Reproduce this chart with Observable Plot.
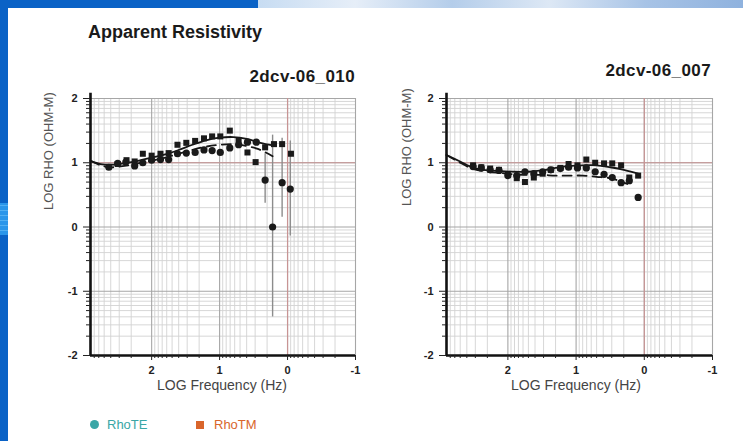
<!DOCTYPE html>
<html><head><meta charset="utf-8">
<script src="https://cdn.jsdelivr.net/npm/d3@7"></script>
<script src="https://cdn.jsdelivr.net/npm/@observablehq/plot@0.6"></script>
<style>
body{margin:0;background:#fff;font-family:"Liberation Sans",Arial,Helvetica,sans-serif;}
#page{position:relative;width:743px;height:441px;overflow:hidden;background:#fff;}
.abs{position:absolute;white-space:nowrap;}
#bl{left:0;top:0;width:8px;height:441px;background:#0a62c6;}
#bl2{left:0;top:203px;width:8px;height:32px;background:repeating-linear-gradient(0deg,#2a96ea 0 4px,#52b0f2 4px 5px);}
#bt{left:0;top:0;width:258px;height:8px;background:#0a62c6;}
#bt2{left:258px;top:0;width:485px;height:8px;background:linear-gradient(90deg,#c7dcf2,#e6eef8 20%,#b4cdea 40%,#dde8f5 60%,#a7c3e6 80%,#8fb2de);}
.ttl{font-weight:bold;color:#1a1a1a;}
.ylab{font-size:13px;color:#555;transform-origin:0 0;transform:rotate(-90deg);}
.xlab{font-size:14px;color:#444;transform:translateX(-50%);}
.leg{font-size:13px;}
</style></head><body><div id="page">
<div class="abs" id="bl"></div><div class="abs" id="bl2"></div>
<div class="abs" id="bt"></div><div class="abs" id="bt2"></div>
<div class="abs ttl" style="left:88px;top:22px;font-size:18px;">Apparent Resistivity</div>
<div class="abs ttl" id="t1" style="right:388px;top:67px;font-size:17px;letter-spacing:0.4px;">2dcv-06_010</div>
<div class="abs ttl" id="t2" style="right:32px;top:61px;font-size:17px;letter-spacing:0.4px;">2dcv-06_007</div>
<div class="abs ylab" style="left:41px;top:210px;">LOG RHO (OHM-M)</div>
<div class="abs ylab" style="left:399px;top:206px;">LOG RHO (OHM-M)</div>
<div class="abs xlab" style="left:222px;top:377px;">LOG Frequency (Hz)</div>
<div class="abs xlab" style="left:576px;top:377px;">LOG Frequency (Hz)</div>
<div class="abs leg" style="left:90px;top:417px;color:#3aa6a6;"><span style="display:inline-block;width:9px;height:9px;border-radius:50%;background:#3aa6a6;margin-right:8px;"></span>RhoTE</div>
<div class="abs leg" style="left:196px;top:417px;color:#d9652b;"><span style="display:inline-block;width:8px;height:8px;background:#d9652b;margin-right:10px;"></span>RhoTM</div>
<div class="abs" id="c1" style="left:30px;top:60px;"></div>
<div class="abs" id="c2" style="left:386px;top:60px;"></div>
</div>
<script>
// ---- tick labels ----
const xTicks = [2, 1, 0, -1];
const yTicks = [-2, -1, 0, 1, 2];

// ---- Left station 2dcv-06_010 ----
const l_te_f = [2.63, 2.5, 2.38, 2.25, 2.13, 2.0, 1.87, 1.75, 1.62, 1.49, 1.36, 1.23, 1.11, 0.99, 0.85, 0.72, 0.59, 0.46, 0.33, 0.22, 0.08, -0.04];
const l_te_r = [0.93, 0.99, 1.01, 0.95, 1.0, 1.04, 1.05, 1.05, 1.14, 1.15, 1.16, 1.20, 1.19, 1.16, 1.23, 1.28, 1.32, 1.32, 0.73, 0.0, 0.69, 0.59];
const l_tm_f = [2.5, 2.37, 2.25, 2.13, 2.0, 1.87, 1.75, 1.62, 1.49, 1.36, 1.23, 1.11, 0.99, 0.85, 0.72, 0.59, 0.47, 0.33, 0.20, 0.08, -0.05];
const l_tm_r = [0.98, 1.04, 1.02, 1.14, 1.11, 1.14, 1.15, 1.28, 1.31, 1.34, 1.38, 1.41, 1.41, 1.50, 1.35, 1.16, 1.01, 1.24, 1.29, 1.29, 1.14];
const l_err_f = [0.33, 0.22, 0.08, -0.04];
const l_err_lo = [0.37, -1.40, 0.15, -0.14];
const l_err_hi = [1.14, 1.43, 1.38, 1.34];
const l_mtm_f = [2.9, 2.75, 2.6, 2.4, 2.2, 2.0, 1.8, 1.6, 1.4, 1.2, 1.0, 0.8, 0.6, 0.4, 0.22];
const l_mtm_r = [1.03, 0.98, 0.97, 0.99, 1.03, 1.08, 1.13, 1.20, 1.28, 1.35, 1.39, 1.40, 1.37, 1.31, 1.27];
const l_mte_f = [2.9, 2.75, 2.6, 2.4, 2.2, 2.0, 1.8, 1.6, 1.4, 1.2, 1.0, 0.8, 0.6, 0.45, 0.32, 0.22];
const l_mte_r = [1.03, 0.96, 0.93, 0.95, 0.99, 1.03, 1.08, 1.14, 1.20, 1.25, 1.28, 1.29, 1.26, 1.22, 1.16, 1.10];

// ---- Right station 2dcv-06_007 ----
const r_te_f = [2.51, 2.39, 2.26, 2.13, 2.0, 1.87, 1.75, 1.62, 1.49, 1.37, 1.23, 1.11, 0.98, 0.85, 0.72, 0.59, 0.47, 0.34, 0.22, 0.09];
const r_te_r = [0.94, 0.92, 0.89, 0.88, 0.80, 0.80, 0.86, 0.83, 0.86, 0.89, 0.91, 0.93, 0.92, 0.92, 0.86, 0.82, 0.77, 0.69, 0.72, 0.46];
const r_tm_f = [2.51, 2.39, 2.26, 2.13, 2.0, 1.87, 1.75, 1.62, 1.49, 1.37, 1.23, 1.11, 0.98, 0.85, 0.72, 0.59, 0.47, 0.34, 0.22, 0.09];
const r_tm_r = [0.96, 0.93, 0.91, 0.89, 0.81, 0.76, 0.70, 0.77, 0.83, 0.89, 0.92, 0.98, 0.96, 1.05, 1.00, 0.99, 0.99, 0.96, 0.77, 0.80];
const r_mtm_f = [2.9, 2.7, 2.5, 2.3, 2.1, 1.9, 1.7, 1.5, 1.3, 1.1, 0.9, 0.7, 0.5, 0.3, 0.09];
const r_mtm_r = [1.12, 1.02, 0.92, 0.88, 0.87, 0.86, 0.86, 0.88, 0.92, 0.95, 0.96, 0.96, 0.93, 0.89, 0.83];
const r_mte_f = [2.9, 2.7, 2.5, 2.3, 2.1, 1.9, 1.7, 1.5, 1.3, 1.1, 0.9, 0.7, 0.5, 0.35, 0.25];
const r_mte_r = [1.12, 1.00, 0.90, 0.86, 0.84, 0.82, 0.81, 0.81, 0.80, 0.80, 0.80, 0.78, 0.76, 0.71, 0.67];

const zip = (f, r) => f.map((x, i) => ({f: x, r: r[i]}));
const minorX = [-1, 0, 1, 2].flatMap(d => d3.range(2, 10).map(k => d + Math.log10(k))).filter(v => v < 2.9);
const minorY = [-2, -1, 0, 1].flatMap(d => d3.range(2, 10).map(k => d + Math.log10(k)));
const fmt = d => String(d);

function chart(o) {
  const errs = o.errF.map((x, i) => ({f: x, lo: o.errLo[i], hi: o.errHi[i]}));
  return Plot.plot({
    width: 340, height: 345,
    marginLeft: 60, marginRight: o.mr, marginTop: 38, marginBottom: 50,
    x: {domain: [2.9, -1]},
    y: {domain: [-2, 2]},
    style: {fontFamily: "'Liberation Sans', Arial, sans-serif", fontSize: "11px", fontWeight: "bold", color: "#222", background: "transparent", overflow: "visible"},
    marks: [
      Plot.ruleX(minorX, {stroke: "#d2d2d2", strokeWidth: 0.9}),
      Plot.ruleY(minorY, {stroke: "#d2d2d2", strokeWidth: 0.9}),
      Plot.ruleX(xTicks, {stroke: "#a6a6a6", strokeWidth: 1.1}),
      Plot.ruleY(yTicks, {stroke: "#a6a6a6", strokeWidth: 1.1}),
      Plot.ruleX([0], {stroke: "#c89494", strokeWidth: 1.2}),
      Plot.ruleY([1], {stroke: "#c89494", strokeWidth: 1.2}),
      Plot.ruleX(errs, {x: "f", y1: "lo", y2: "hi", stroke: "#8c8c8c", strokeWidth: 1.4}),
      Plot.line(zip(o.mtmF, o.mtmR), {x: "f", y: "r", stroke: "#161616", strokeWidth: 1.8, curve: "catmull-rom"}),
      Plot.line(zip(o.mteF, o.mteR), {x: "f", y: "r", stroke: "#161616", strokeWidth: 1.8, strokeDasharray: "9,6", curve: "catmull-rom"}),
      Plot.dot(zip(o.tmF, o.tmR), {x: "f", y: "r", symbol: "square", r: 3.4, fill: "#1a1a1a"}),
      Plot.dot(zip(o.teF, o.teR), {x: "f", y: "r", symbol: "circle", r: 3.6, fill: "#1a1a1a"}),
      Plot.ruleX([2.9], {y1: -2, y2: 2.08, stroke: "#111", strokeWidth: 2.6}),
      Plot.ruleY([-2], {stroke: "#111", strokeWidth: 2.6}),
      Plot.axisY(yTicks, {tickSize: 7, tickPadding: 6, tickFormat: fmt, label: null}),
      Plot.axisY(minorY, {tickSize: 4, tickFormat: () => "", label: null}),
      Plot.axisX(xTicks, {tickSize: 5, tickPadding: 6, tickFormat: fmt, label: null}),
      Plot.axisX(minorX, {tickSize: 3, tickFormat: () => "", label: null})
    ]
  });
}

document.getElementById("c1").append(chart({
  mr: 15,
  teF: l_te_f, teR: l_te_r, tmF: l_tm_f, tmR: l_tm_r,
  errF: l_err_f, errLo: l_err_lo, errHi: l_err_hi,
  mtmF: l_mtm_f, mtmR: l_mtm_r, mteF: l_mte_f, mteR: l_mte_r
}));
document.getElementById("c2").append(chart({
  mr: 14,
  teF: r_te_f, teR: r_te_r, tmF: r_tm_f, tmR: r_tm_r,
  errF: [], errLo: [], errHi: [],
  mtmF: r_mtm_f, mtmR: r_mtm_r, mteF: r_mte_f, mteR: r_mte_r
}));
</script>
</body></html>
